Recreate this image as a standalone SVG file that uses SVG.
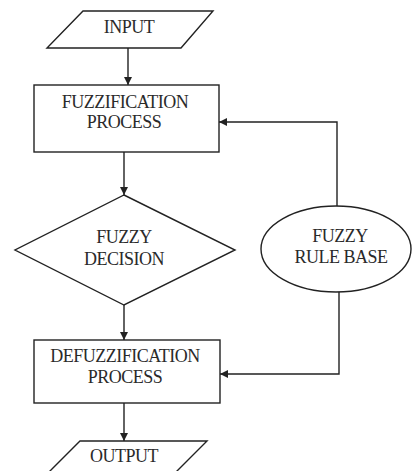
<svg xmlns="http://www.w3.org/2000/svg" width="412" height="471" viewBox="0 0 412 471">
<style>
.s{fill:#fff;stroke:#222;stroke-width:1.4}
.c{fill:none;stroke:#222;stroke-width:1.4}
.t{font-family:"Liberation Serif","Times New Roman",serif;font-size:18px;letter-spacing:-0.5px;fill:#2a2a2a;text-anchor:middle}
</style>
<defs>
<marker id="a" viewBox="0 0 10 10" refX="10" refY="5" markerWidth="8" markerHeight="8" markerUnits="userSpaceOnUse" orient="auto">
<path d="M0,0 L10,5 L0,10 z" fill="#222"/>
</marker>
</defs>
<rect width="412" height="471" fill="#fff"/>
<g id="connectors">
<line class="c" x1="128" y1="48" x2="128" y2="85" marker-end="url(#a)"/>
<line class="c" x1="124" y1="152" x2="124" y2="195" marker-end="url(#a)"/>
<line class="c" x1="124" y1="305" x2="124" y2="340" marker-end="url(#a)"/>
<line class="c" x1="124" y1="403" x2="124" y2="441" marker-end="url(#a)"/>
<polyline class="c" points="337,207 337,122 219,122" marker-end="url(#a)"/>
<polyline class="c" points="339,292 339,374 220,374" marker-end="url(#a)"/>
</g>
<g id="input">
<polygon class="s" points="83,11 213,11 181,48 47,48"/>
<text class="t" x="129" y="33">INPUT</text>
</g>
<g id="fuzzification">
<rect class="s" x="34" y="85" width="185" height="67"/>
<text class="t" x="125" y="107.5">FUZZIFICATION</text>
<text class="t" x="124" y="128">PROCESS</text>
</g>
<g id="decision">
<polygon class="s" points="124,195 235,250 124,305 15,250"/>
<text class="t" x="124" y="243">FUZZY</text>
<text class="t" x="124" y="265">DECISION</text>
</g>
<g id="rulebase">
<ellipse class="s" cx="336" cy="249" rx="75" ry="43"/>
<text class="t" x="340" y="242">FUZZY</text>
<text class="t" x="341" y="263">RULE BASE</text>
</g>
<g id="defuzzification">
<rect class="s" x="34" y="340" width="186" height="63"/>
<text class="t" x="125" y="362">DEFUZZIFICATION</text>
<text class="t" x="125" y="383">PROCESS</text>
</g>
<g id="output">
<polygon class="s" points="80,441 207,441 170,478 43,478"/>
<text class="t" x="124" y="462">OUTPUT</text>
</g>
</svg>
